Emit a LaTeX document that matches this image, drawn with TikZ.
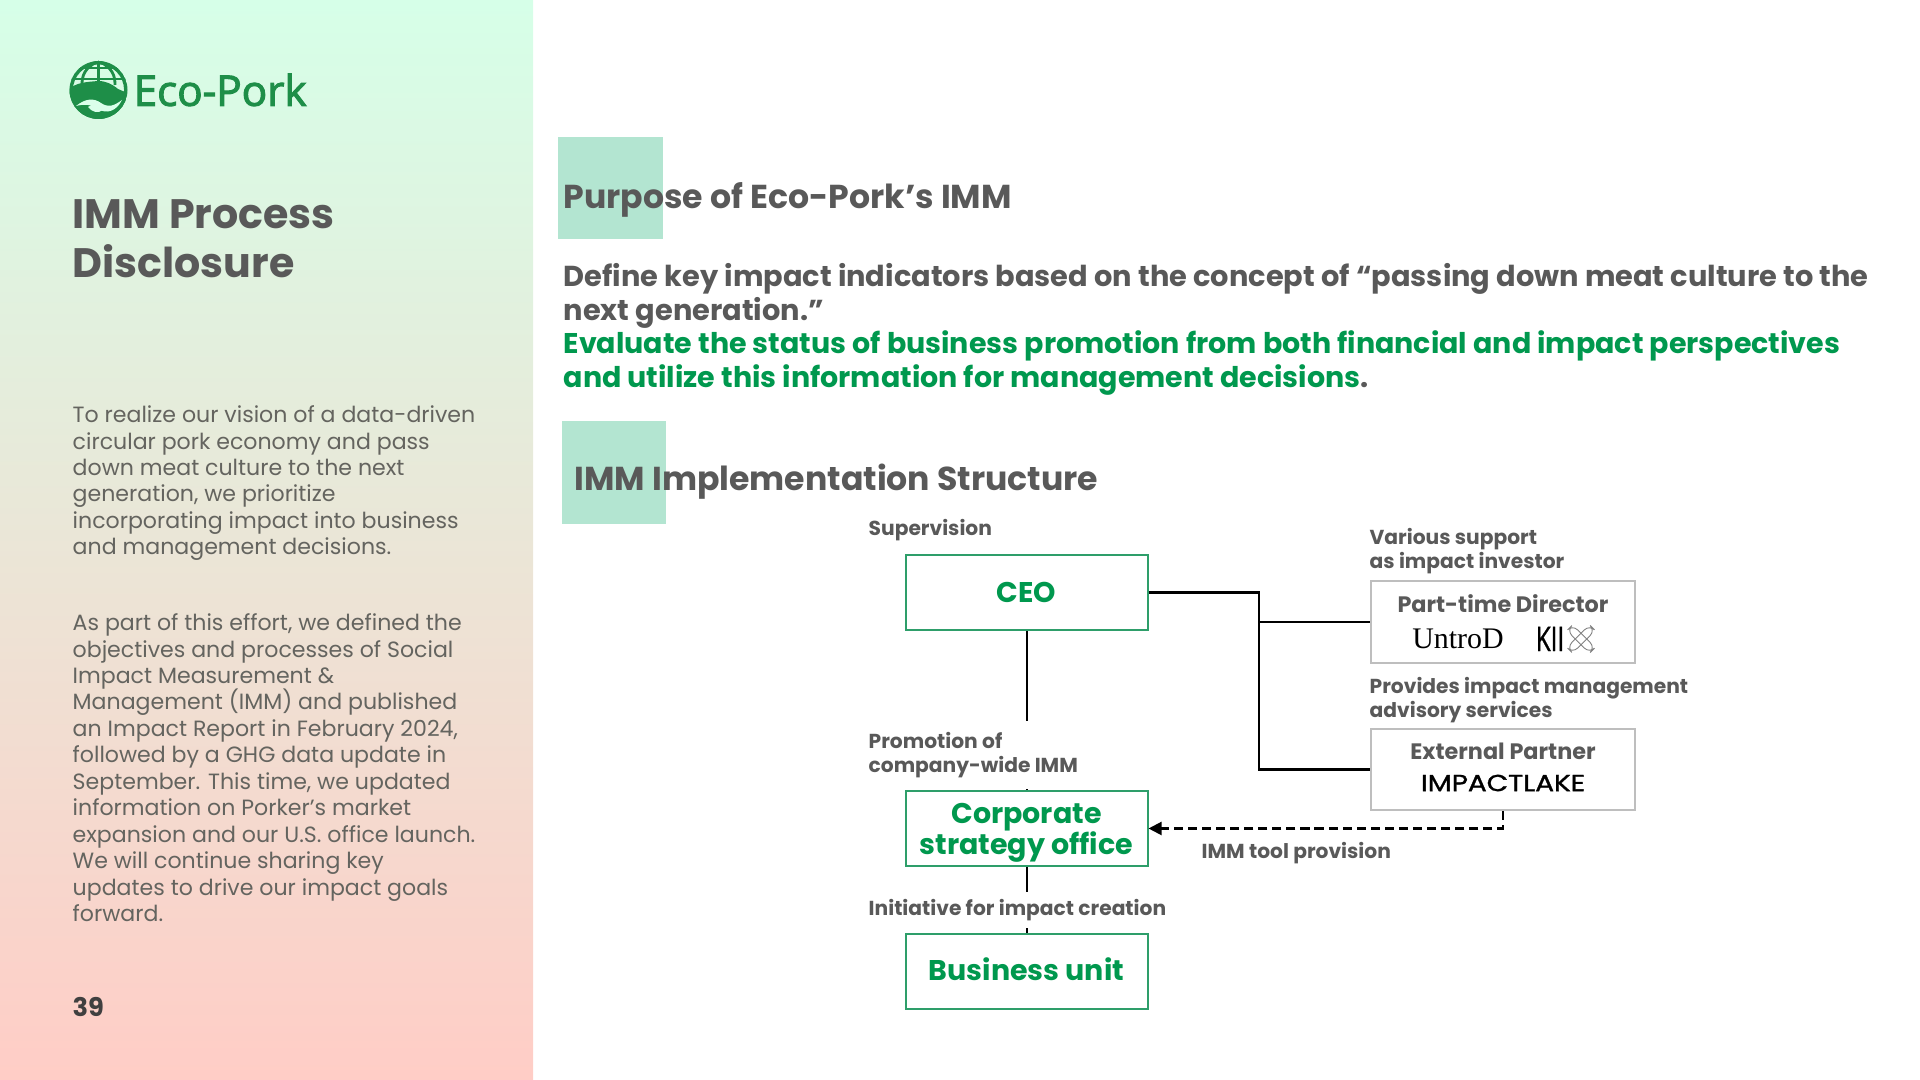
\documentclass[tikz,border=0pt]{standalone}
\usepackage{fontspec}
\setmainfont{Poppins}
\newfontfamily\logofont[FakeBold=2.4]{Open Sans}
\newfontfamily\kiifont[FakeBold=1.2]{Open Sans}
\newfontfamily\lakefont[FakeBold=1.2]{Poppins}
\newfontfamily\untrofont{Liberation Serif}
\usetikzlibrary{arrows.meta, positioning}
\setlength{\lineskiplimit}{-9pt}
\setlength{\normallineskiplimit}{-9pt}
\definecolor{textgray}{RGB}{89, 89, 89}
\definecolor{bodygray}{RGB}{100, 100, 95}
\definecolor{pagedark}{RGB}{64, 64, 64}
\definecolor{mintgreen}{RGB}{179, 229, 209}
\definecolor{ecogreen}{RGB}{0, 152, 78}
\definecolor{boxgreen}{RGB}{46, 158, 106}
\definecolor{boxgray}{RGB}{190, 190, 190}
\definecolor{logogreen}{RGB}{30, 142, 72}
\definecolor{sidetop}{RGB}{214, 255, 232}
\definecolor{sidemid}{RGB}{226, 233, 214}
\definecolor{sidebottom}{RGB}{255, 205, 198}
\newcommand{\greenlead}[1]{{\fontsize{8.11}{9.5}\selectfont\textcolor{ecogreen}{#1}}}
\tikzset{
  titletext/.style={anchor=west, align=left, text=textgray, inner sep=0pt, font=\bfseries\fontsize{11.7}{13.8}\selectfont},
  headtext/.style={anchor=west, align=left, text=textgray, inner sep=0pt, font=\bfseries\fontsize{9.42}{11}\selectfont},
  leadtext/.style={anchor=north west, align=left, text=textgray, inner sep=0pt, font=\bfseries\fontsize{8.2}{9.5}\selectfont},
  bodytext/.style={anchor=north west, align=left, text=bodygray, inner sep=0pt, font=\fontsize{6.28}{7.52}\selectfont},
  smalllabel/.style={anchor=west, align=left, fill=white, text=textgray, inner sep=0pt, font=\bfseries\fontsize{5.75}{7.0}\selectfont},
  greenbox/.style={draw=boxgreen, line width=0.55pt, fill=white, minimum width=2.41cm, minimum height=0.75cm, inner sep=0pt},
  greentext/.style={align=center, text=ecogreen, inner sep=0pt, font=\bfseries\fontsize{8.1}{8.75}\selectfont},
  graybox/.style={draw=boxgray, line width=0.55pt, fill=white, minimum width=2.64cm, inner sep=0pt},
  boxtitle/.style={text=textgray, inner sep=0pt, font=\bfseries\fontsize{6.35}{7}\selectfont},
  linkline/.style={black, line width=0.6pt},
  linkdash/.style={black, line width=0.6pt, dash pattern=on 2.6pt off 1.4pt, -{Triangle[length=1.3mm, width=1.3mm]}}
}
\begin{document}
\begin{tikzpicture}[x=0.01cm, y=-0.01cm]
    \useasboundingbox (0,0) rectangle (1920,1080);

    % --- SIDE PANEL ---
    \shade[top color=sidetop, middle color=sidemid, bottom color=sidebottom] (0,0) rectangle (533,1080);

    % --- LOGO ---
    \begin{scope}
      \clip (98.5,90) circle (29);
      \draw[logogreen, line width=1.1pt] (98.5,90) circle (27.5);
      \draw[logogreen, line width=0.8pt] (70,68) -- (127,68) (70,79) -- (127,79);
      \draw[logogreen, line width=0.8pt] (98.5,60) -- (98.5,85);
      \draw[logogreen, line width=0.8pt] (98.5,61) .. controls (84,68) and (82,76) .. (82,85);
      \draw[logogreen, line width=0.8pt] (98.5,61) .. controls (113,68) and (115,76) .. (115,85);
      \fill[logogreen] (68,122) -- (68,90) .. controls (76,82) and (88,82) .. (98,81)
        .. controls (106,81) and (112,84) .. (118,89) -- (125,92) -- (127,100) -- (130,122) -- cycle;
      \fill[sidetop!90!white] (76,106) .. controls (86,98) and (94,98) .. (101,103)
        .. controls (108,108) and (114,106) .. (122,100) .. controls (116,112) and (106,114) .. (98,109)
        .. controls (90,104) and (84,104) .. (76,106) -- cycle;
      \fill[sidetop!90!white] (88,107) .. controls (92,103) and (98,106) .. (103,110)
        .. controls (98,114) and (92,112) .. (88,107) -- cycle;
    \end{scope}
    \node (logotext) at (133,90) [anchor=west, inner sep=0pt, text=logogreen, font=\logofont\fontsize{12}{13}\selectfont] {Eco-Pork};

    % --- SIDE TEXT ---
    \node[titletext] (sidetitle) at (72,238.5) {IMM Process\\Disclosure};
    \node[bodytext] (sidefirst) at (72,405) {To realize our vision of a data-driven\\circular pork economy and pass\\down meat culture to the next\\generation, we prioritize\\incorporating impact into business\\and management decisions.};
    \node[bodytext] (sidesecond) at (72,613) {As part of this effort, we defined the\\objectives and processes of Social\\Impact Measurement \&\\Management (IMM) and published\\an Impact Report in February 2024,\\followed by a GHG data update in\\September. This time, we updated\\information on Porker\char39 s market\\expansion and our U.S. office launch.\\We will continue sharing key\\updates to drive our impact goals\\forward.};
    \node (pagenum) at (72,1007) [anchor=west, inner sep=0pt, text=pagedark, font=\bfseries\fontsize{7.3}{8}\selectfont] {39};

    % --- PURPOSE ---
    \fill[mintgreen] (558,137) rectangle (663,239);
    \node[headtext] (purposehead) at (563,200) {Purpose of Eco-Pork’s IMM};
    \node[leadtext] (purposetext) at (563,263) {Define key impact indicators based on the concept of “passing down meat culture to the\\next generation.\char34\\\greenlead{Evaluate the status of business promotion from both financial and impact perspectives}\\\greenlead{and utilize this information for management decisions}.};

    % --- STRUCTURE ---
    \fill[mintgreen] (562,421) rectangle (666,524);
    \node[headtext] (structurehead) at (574,482) {IMM Implementation Structure};

    % Left column boxes
    \node[greenbox] (ceo) at (1027,592.5) {};
    \node[greenbox] (strategy) at (1027,828.5) {};
    \node[greenbox] (business) at (1027,971.5) {};
    \node[greentext] (ceotext) at (1026.5,592.5) {CEO};
    \node[greentext] (strategytext) at (1026.5,832.5) {Corporate\\strategy office};
    \node[greentext] (businesstext) at (1026.5,969) {Business unit};

    % Right column boxes
    \node[graybox, minimum height=0.82cm] (director) at (1503,622) {};
    \node[graybox, minimum height=0.81cm] (partner) at (1503,769.5) {};
    \node[boxtitle] (directortitle) at (1503,604) {Part-time Director};
    \node (untrod) at (1458,639) [inner sep=0pt, text=black, font=\untrofont\fontsize{8.5}{9}\selectfont] {UntroD};
    \node (kii) at (1550,639) [inner sep=0pt, text=black, xscale=0.72, font=\kiifont\fontsize{9.6}{10}\selectfont] {KII};
    \draw[gray, line width=0.25pt, rounded corners=2pt, rotate around={45:(1581,639)}] (1565,635) rectangle (1597,643);
    \draw[gray, line width=0.25pt, rounded corners=2pt, rotate around={-45:(1581,639)}] (1565,635) rectangle (1597,643);
    \node[boxtitle] (partnertitle) at (1503,751) {External Partner};
    \node (impactlake) at (1503,783) [inner sep=0pt, text=black, xscale=1.2, font=\lakefont\fontsize{6.6}{8}\selectfont] {IMPACTLAKE};

    % Connectors
    \coordinate (junction) at (1259,592.5);
    \coordinate (toolcorner) at (1503,828.5);
    \draw[linkline] (ceo) -- (strategy);
    \draw[linkline] (strategy) -- (business);
    \draw[linkline] (ceo.east) -- (junction) |- (director.west);
    \draw[linkline] (junction) |- (partner.west);
    \draw[linkdash] (partner.south) -- (toolcorner) -- (strategy.east);

    % Labels
    \node[smalllabel] (supervision) at (868,530) {Supervision};
    \node[smalllabel, inner ysep=3pt] (promotion) at (868,755) {Promotion of\\company-wide IMM};
    \node[smalllabel, inner ysep=2pt] (initiative) at (868,910) {Initiative for impact creation};
    \node[smalllabel] (investor) at (1369,551) {Various support\\as impact investor};
    \node[smalllabel] (advisory) at (1369,700) {Provides impact management\\advisory services};
    \node[smalllabel] (toollabel) at (1201,853) {IMM tool provision};
\end{tikzpicture}
\end{document}
